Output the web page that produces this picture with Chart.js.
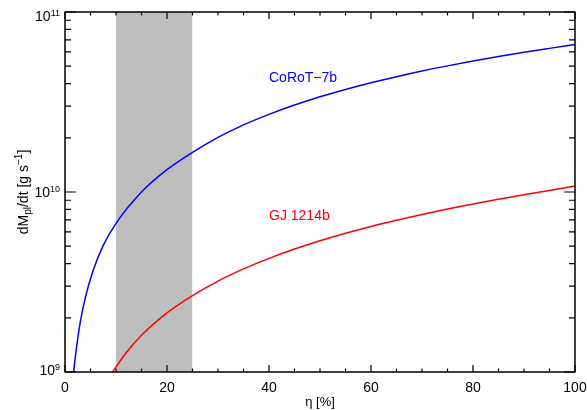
<!DOCTYPE html>
<html>
<head>
<meta charset="utf-8">
<script src="https://cdn.jsdelivr.net/npm/chart.js@4/dist/chart.umd.min.js"></script>
<style>
  html, body { margin: 0; padding: 0; background: #fff; }
</style>
</head>
<body>
<canvas id="c" width="587" height="410"></canvas>
<script>
// mass loss rate vs heating efficiency
var etaCorot = [1.7, 2, 3, 4, 5.5, 7.5, 10, 15, 20, 25, 30, 35, 40, 45, 50, 55, 60, 65, 70, 75, 80, 85, 90, 95, 100];
var mdotCorot = [1.0e9, 1.2e9, 1.9e9, 2.6e9, 3.65e9, 5.05e9, 6.7e9, 1.0e10, 1.33e10, 1.66e10, 2.01e10, 2.36e10, 2.7e10,
                 3.04e10, 3.38e10, 3.71e10, 4.04e10, 4.37e10, 4.7e10, 5.02e10, 5.34e10, 5.66e10, 5.97e10, 6.28e10, 6.6e10];
var etaGj = [9.3, 12, 15, 20, 25, 30, 35, 40, 45, 50, 55, 60, 65, 70, 75, 80, 85, 90, 95, 100];
var mdotGj = [1.0e9, 1.28e9, 1.6e9, 2.13e9, 2.66e9, 3.2e9, 3.74e9, 4.28e9, 4.82e9, 5.36e9, 5.9e9, 6.44e9,
              6.97e9, 7.5e9, 8.04e9, 8.58e9, 9.12e9, 9.66e9, 1.02e10, 1.08e10];
var names = ['CoRoT\u22127b', 'GJ 1214b'];
var band = [10, 25];              // shaded eta range
var yTicks = [1e9, 1e10, 1e11];
var xTicks = [0, 20, 40, 60, 80, 100];

var FONT = '"Liberation Sans", Arial, Helvetica, sans-serif';
// where the curve names go, in data units
var namePos = [{x: 40, y: 4.3e10}, {x: 40, y: 7.3e9}];
var colors = ['#0000ff', '#ff0000'];

function pts(xs, ys) {
  return xs.map(function (x, i) { return {x: x, y: ys[i]}; });
}

var boxPlugin = {
  id: 'boxPlugin',
  afterDatasetsDraw: function (chart) {
    var ctx = chart.ctx, a = chart.chartArea;
    var xs = chart.scales.x, ys = chart.scales.y;
    ctx.save();
    ctx.strokeStyle = '#000';
    ctx.lineWidth = 1.5;
    ctx.strokeRect(a.left, a.top, a.right - a.left, a.bottom - a.top);

    // x ticks, inward, bottom and top
    ctx.lineWidth = 1.2;
    ctx.beginPath();
    for (var v = 0; v <= 100; v += 5) {
      var px = xs.getPixelForValue(v);
      var len = v % 20 === 0 ? 7 : 3.5;
      ctx.moveTo(px, a.bottom); ctx.lineTo(px, a.bottom - len);
      ctx.moveTo(px, a.top); ctx.lineTo(px, a.top + len);
    }
    // y ticks, log decades with minors
    for (var d = 0; d < yTicks.length; d++) {
      var base = yTicks[d];
      for (var m = 1; m <= 9; m++) {
        var val = base * m;
        if (val > yTicks[yTicks.length - 1]) break;
        var py = ys.getPixelForValue(val);
        var l = m === 1 ? 11 : 6;
        ctx.moveTo(a.left, py); ctx.lineTo(a.left + l, py);
        ctx.moveTo(a.right, py); ctx.lineTo(a.right - l, py);
      }
    }
    ctx.stroke();

    // y tick labels 10^n
    ctx.fillStyle = '#000';
    ctx.textBaseline = 'alphabetic';
    ctx.textAlign = 'right';
    yTicks.forEach(function (t) {
      var py = ys.getPixelForValue(t);
      var exp = String(Math.round(Math.log10(t)));
      var bl = Math.min(Math.max(py + 5, a.top + 9), a.bottom + 3);
      ctx.font = '9px ' + FONT;
      var sw = ctx.measureText(exp).width;
      ctx.fillText(exp, a.left - 5, bl - 5);
      ctx.font = '14px ' + FONT;
      ctx.fillText('10', a.left - 5 - sw, bl);
    });

    // y axis title with sub/superscript
    var parts = [
      {t: 'dM', f: 14, dy: 0},
      {t: 'pl', f: 10, dy: 3},
      {t: '/dt [g s', f: 14, dy: 0},
      {t: '\u22121', f: 10, dy: -6},
      {t: ']', f: 14, dy: 0}
    ];
    var total = 0;
    parts.forEach(function (p) { ctx.font = p.f + 'px ' + FONT; p.w = ctx.measureText(p.t).width; total += p.w; });
    ctx.save();
    ctx.translate(28, (a.top + a.bottom) / 2);
    ctx.rotate(-Math.PI / 2);
    ctx.textAlign = 'left';
    var cx = -total / 2;
    parts.forEach(function (p) {
      ctx.font = p.f + 'px ' + FONT;
      ctx.fillText(p.t, cx, p.dy);
      cx += p.w;
    });
    ctx.restore();

    // curve names
    ctx.font = '14px ' + FONT;
    ctx.textAlign = 'left';
    ctx.textBaseline = 'middle';
    names.forEach(function (n, i) {
      ctx.fillStyle = colors[i];
      ctx.fillText(n, xs.getPixelForValue(namePos[i].x), ys.getPixelForValue(namePos[i].y));
    });
    ctx.restore();
  }
};

new Chart(document.getElementById('c').getContext('2d'), {
  type: 'line',
  data: {
    datasets: [
      {
        label: names[0], data: pts(etaCorot, mdotCorot),
        borderColor: colors[0], borderWidth: 1.5, pointRadius: 0,
        cubicInterpolationMode: 'monotone', fill: false, order: 1
      },
      {
        label: names[1], data: pts(etaGj, mdotGj),
        borderColor: colors[1], borderWidth: 1.5, pointRadius: 0,
        cubicInterpolationMode: 'monotone', fill: false, order: 2
      },
      {
        label: 'band', data: pts(band, [yTicks[2], yTicks[2]]),
        backgroundColor: '#bebebe', borderWidth: 0, pointRadius: 0,
        fill: 'start', order: 3
      }
    ]
  },
  options: {
    responsive: false,
    animation: false,
    layout: { padding: { top: 12, right: 12, left: 0, bottom: 0 } },
    plugins: { legend: { display: false }, tooltip: { enabled: false } },
    scales: {
      x: {
        type: 'linear', min: 0, max: 100,
        grid: { display: false, drawTicks: false },
        border: { display: false },
        afterBuildTicks: function (s) { s.ticks = xTicks.map(function (v) { return {value: v}; }); },
        afterFit: function (s) { s.height = 38; s.paddingLeft = 0; s.paddingRight = 0; },
        ticks: { color: '#000', padding: 8, maxRotation: 0, font: { family: FONT, size: 14 } },
        title: { display: true, text: '\u03b7 [%]', color: '#000', padding: { top: 0, bottom: 0 }, font: { family: FONT, size: 13 } }
      },
      y: {
        type: 'logarithmic', min: yTicks[0], max: yTicks[2],
        grid: { display: false, drawTicks: false },
        border: { display: false },
        ticks: { display: false },
        afterFit: function (s) { s.width = 65; s.paddingTop = 0; s.paddingBottom = 0; }
      }
    }
  },
  plugins: [boxPlugin]
});
</script>
</body>
</html>
